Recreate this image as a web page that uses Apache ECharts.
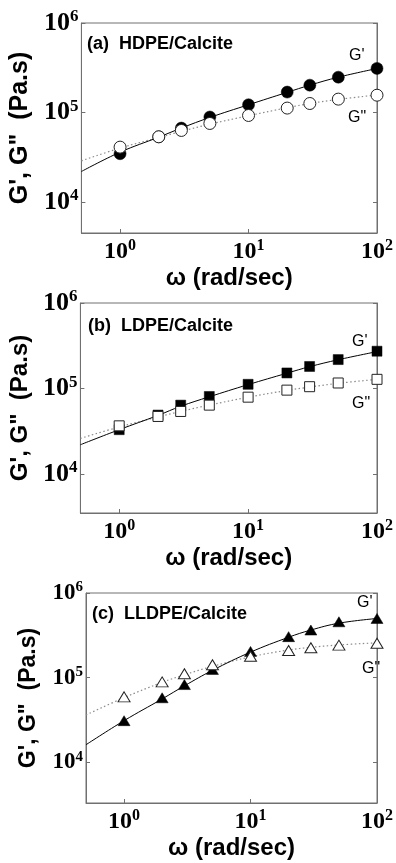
<!DOCTYPE html>
<html>
<head>
<meta charset="utf-8">
<script src="https://cdn.jsdelivr.net/npm/echarts@6/dist/echarts.min.js"></script>
<style>
html,body{margin:0;padding:0;background:#fff;}
#chart{width:396px;height:863px;}
</style>
</head>
<body>
<div id="chart"></div>
<script>
// ---- data ----
var omega = [1, 2, 3, 5, 10, 20, 30, 50, 100];
var fitOmega = [0.5, 1, 2, 3, 5, 10, 20, 30, 50, 100];

// (a) HDPE/Calcite
var aGp  = [34600, 53500, 66900, 89000, 122000, 169000, 202000, 248000, 311000];
var aGpp = [41000, 53500, 63000, 75400, 92600, 112000, 126000, 141000, 156000];
var aGpFit  = [21900, 36000, 53000, 67000, 88000, 122000, 168000, 202000, 248000, 310000];
var aGppFit = [28800, 40000, 52500, 61500, 74000, 92000, 113000, 126000, 140000, 157000];

// (b) LDPE/Calcite
var bGp  = [33000, 48900, 63900, 80700, 112000, 152000, 181000, 218000, 273000];
var bGpp = [36600, 47100, 53900, 63900, 79200, 95700, 105000, 116000, 128000];
var bGpFit  = [22000, 33000, 48500, 62000, 80000, 111000, 151000, 180000, 217000, 270000];
var bGppFit = [26100, 35500, 46500, 54000, 64000, 79000, 95000, 104000, 115000, 128000];

// (c) LLDPE/Calcite
var cGp  = [31000, 57800, 82800, 125000, 204000, 305000, 365000, 457000, 500000];
var cGpp = [59300, 89000, 111000, 142000, 179000, 209000, 225000, 242000, 255000];
var cGpFit  = [16100, 31000, 56000, 80000, 122000, 200000, 300000, 365000, 440000, 500000];
var cGppFit = [36200, 58000, 88000, 108000, 136000, 176000, 212000, 228000, 243000, 258000];

var panelTitles = ['(a)  HDPE/Calcite', '(b)  LDPE/Calcite', '(c)  LLDPE/Calcite'];
var xName = 'ω (rad/sec)';
var yName = 'G\', G"  (Pa.s)';
var curveLabels = ['G\'', 'G"'];
var xMin = 0.5, xMax = 100;
var yMins = [4500, 3500, 3300];
var yMax = 1000000;

// ---- layout / style ----
var grids = [
  {left: 79, top: 23, width: 303, height: 210},
  {left: 79, top: 303, width: 303, height: 210},
  {left: 86, top: 593, width: 302, height: 210}
];
var symbols = ['circle', 'rect', 'triangle'];
var symSizes = [12, 10, [12, 10]];
var yLabelSizes = [[26, 17], [26, 17], [23, 15]];
var yNameSizes = [25, 24, 23];
var yNameGaps = [43, 43, 46];
var xNameSizes = [24, 24, 24];
var labelPos = [
  {t: [87, 44], g1: [349, 56], g2: [348, 118]},
  {t: [88, 326], g1: [352, 342], g2: [352, 404]},
  {t: [92, 614], g1: [357, 603], g2: [362, 669]}
];
var axisColor = '#707070';
var serif = '"Liberation Serif", "Times New Roman", serif';
var sans = '"Liberation Sans", Arial, sans-serif';

function powFmt(v) {
  var e = Math.round(Math.log(v) / Math.LN10);
  return '{b|10}{s|' + e + '}';
}
function richFor(sz) {
  return {
    b: {fontSize: sz[0], fontFamily: serif, fontWeight: 'bold', color: '#000'},
    s: {fontSize: sz[1], fontFamily: serif, fontWeight: 'bold', color: '#000', padding: [0, 0, Math.round(sz[1] * 0.7), 0]}
  };
}
function pairs(xs, ys) { return xs.map(function (x, k) { return [x, ys[k]]; }); }

var sets = [
  [aGp, aGpp, aGpFit, aGppFit],
  [bGp, bGpp, bGpFit, bGppFit],
  [cGp, cGpp, cGpFit, cGppFit]
];

var option = {
  backgroundColor: '#fff',
  animation: false,
  grid: [], xAxis: [], yAxis: [], series: [], graphic: []
};

for (var i = 0; i < 3; i++) {
  var g = grids[i];
  option.grid.push({left: g.left, top: g.top, width: g.width, height: g.height,
    show: true, borderColor: axisColor, borderWidth: 1, backgroundColor: 'transparent'});
  option.xAxis.push({
    type: 'log', gridIndex: i, min: xMin, max: xMax, splitNumber: 2,
    name: xName, nameLocation: 'middle', nameGap: 33,
    nameTextStyle: {fontFamily: sans, fontWeight: 'bold', fontSize: xNameSizes[i], color: '#000'},
    axisLine: {show: true, lineStyle: {color: axisColor, width: 1}},
    axisTick: {show: true, inside: true, length: 4, lineStyle: {color: axisColor}},
    minorTick: {show: false},
    splitLine: {show: false},
    axisLabel: {show: true, margin: 5, showMinLabel: false, formatter: powFmt, rich: richFor([24, 16])}
  });
  option.yAxis.push({
    type: 'log', gridIndex: i, min: yMins[i], max: yMax, splitNumber: 2,
    name: yName, nameLocation: 'middle', nameGap: yNameGaps[i],
    nameTextStyle: {fontFamily: sans, fontWeight: 'bold', fontSize: yNameSizes[i], color: '#000'},
    axisLine: {show: true, lineStyle: {color: axisColor, width: 1}},
    axisTick: {show: true, inside: true, length: 4, lineStyle: {color: axisColor}},
    splitLine: {show: false},
    axisLabel: {show: true, margin: 3, showMinLabel: false, formatter: powFmt, rich: richFor(yLabelSizes[i])}
  });
  option.yAxis.push({
    type: 'log', gridIndex: i, position: 'right', min: yMins[i], max: yMax, splitNumber: 2,
    axisLine: {show: true, lineStyle: {color: axisColor, width: 1}},
    axisTick: {show: true, inside: true, length: 4, lineStyle: {color: axisColor}},
    splitLine: {show: false},
    axisLabel: {show: false}
  });
  var d = sets[i];
  var yIdx = 2 * i;
  option.series.push({
    type: 'line', xAxisIndex: i, yAxisIndex: yIdx, data: pairs(fitOmega, d[3]),
    smooth: 0.4, showSymbol: false, symbol: 'none', silent: true,
    lineStyle: {color: '#8a8a8a', width: 1.2, type: [1.5, 2.5]}, z: 2
  });
  option.series.push({
    type: 'line', xAxisIndex: i, yAxisIndex: yIdx, data: pairs(fitOmega, d[2]),
    smooth: 0.4, showSymbol: false, symbol: 'none', silent: true,
    lineStyle: {color: '#000', width: 1}, z: 2
  });
  option.series.push({
    type: 'scatter', xAxisIndex: i, yAxisIndex: yIdx, data: pairs(omega, d[0]),
    symbol: symbols[i], symbolSize: symSizes[i],
    itemStyle: {color: '#000', borderColor: '#000', borderWidth: 0.5, opacity: 1}, z: 3
  });
  option.series.push({
    type: 'scatter', xAxisIndex: i, yAxisIndex: yIdx, data: pairs(omega, d[1]),
    symbol: symbols[i], symbolSize: symSizes[i],
    itemStyle: {color: '#fff', borderColor: '#222', borderWidth: 1, opacity: 1}, z: 4
  });
  var lp = labelPos[i];
  option.graphic.push({type: 'text', x: lp.t[0], y: lp.t[1], z: 10,
    style: {text: panelTitles[i], fill: '#000', font: 'bold 18px ' + sans, verticalAlign: 'middle', align: 'left'}});
  option.graphic.push({type: 'text', x: lp.g1[0], y: lp.g1[1], z: 10,
    style: {text: curveLabels[0], fill: '#000', font: '16px ' + sans, verticalAlign: 'middle', align: 'left'}});
  option.graphic.push({type: 'text', x: lp.g2[0], y: lp.g2[1], z: 10,
    style: {text: curveLabels[1], fill: '#000', font: '16px ' + sans, verticalAlign: 'middle', align: 'left'}});
}

var chart = echarts.init(document.getElementById('chart'), null, {renderer: 'canvas'});
chart.setOption(option);
</script>
</body>
</html>
